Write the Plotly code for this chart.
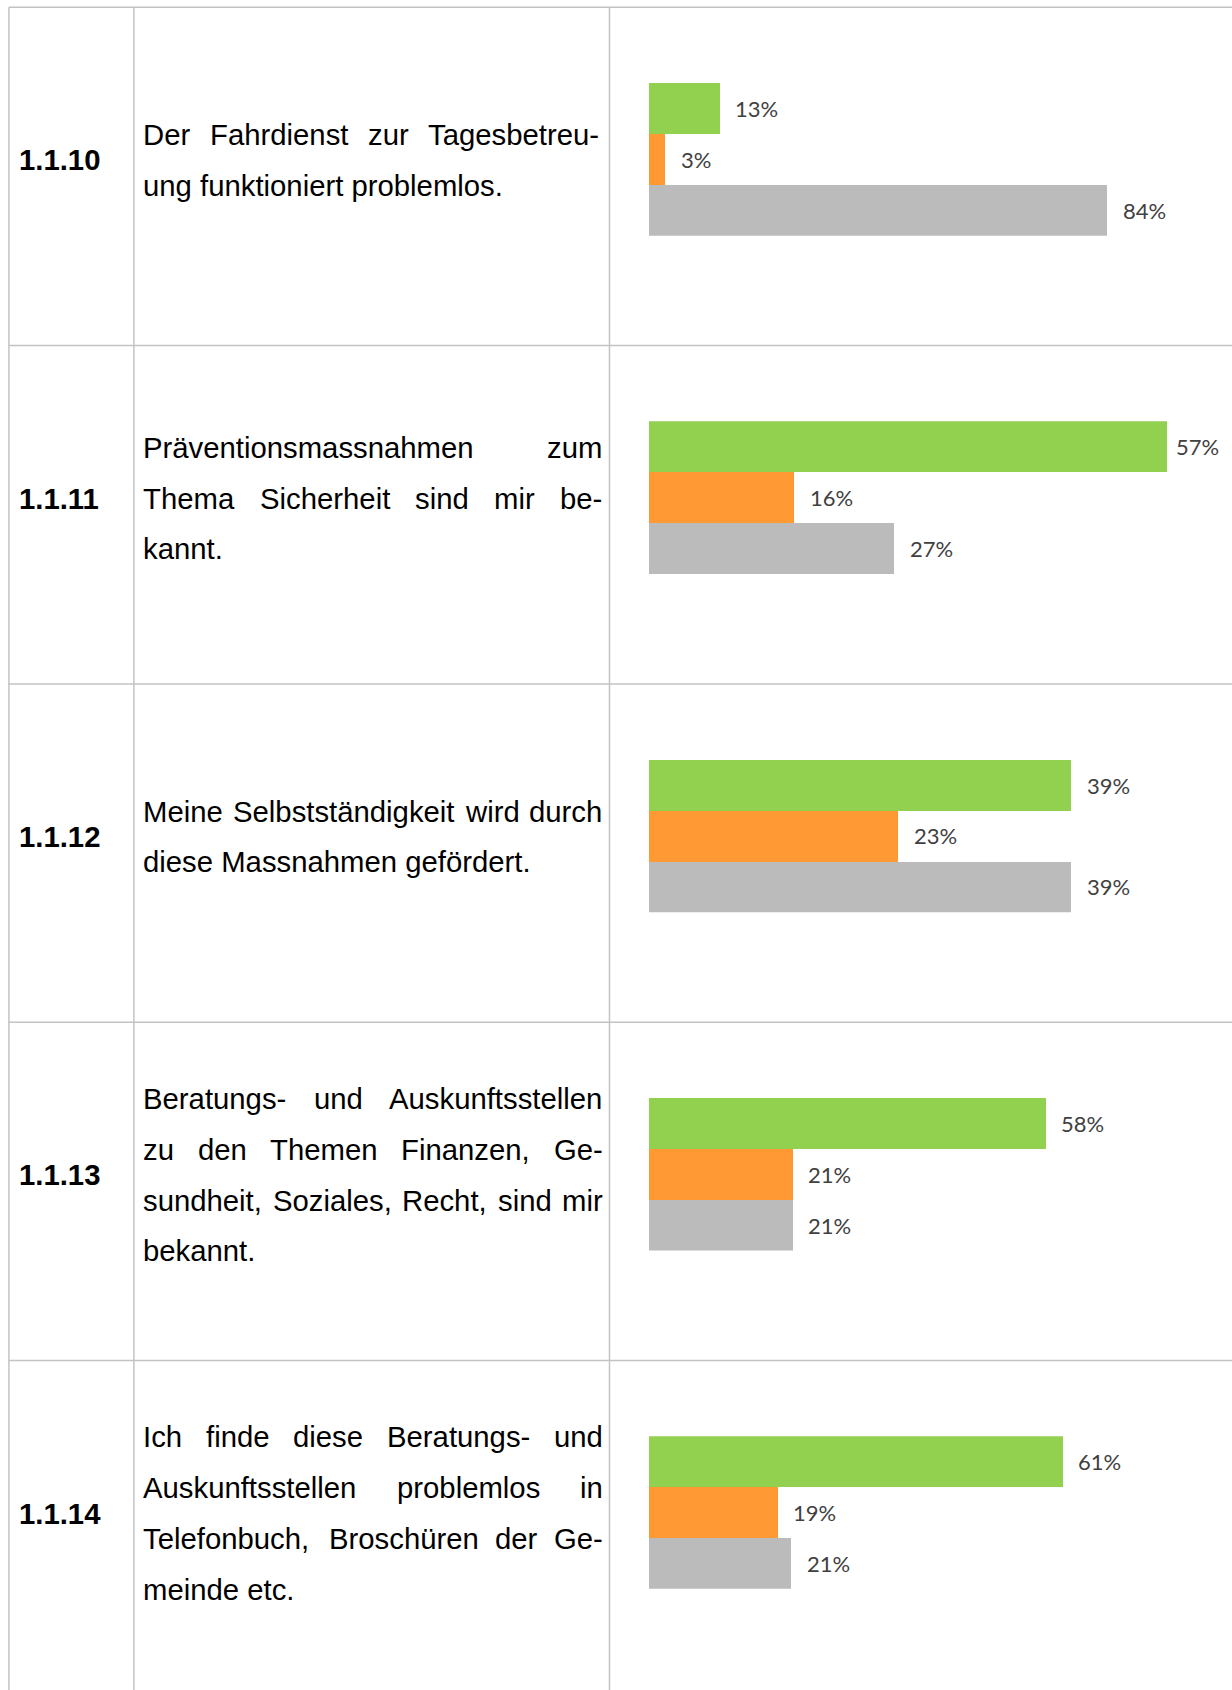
import plotly.graph_objects as go

# ---------------- data ----------------
items = ["1.1.10", "1.1.11", "1.1.12", "1.1.13", "1.1.14"]
statements = [
    ["Der Fahrdienst zur Tagesbetreu-", "ung funktioniert problemlos."],
    ["Präventionsmassnahmen zum", "Thema Sicherheit sind mir be-", "kannt."],
    ["Meine Selbstständigkeit wird durch", "diese Massnahmen gefördert."],
    ["Beratungs- und Auskunftsstellen", "zu den Themen Finanzen, Ge-",
     "sundheit, Soziales, Recht, sind mir", "bekannt."],
    ["Ich finde diese Beratungs- und", "Auskunftsstellen problemlos in",
     "Telefonbuch, Broschüren der Ge-", "meinde etc."],
]
answers = ["Ja", "Nein", "Keine Angabe"]          # green, orange, gray
green_vals = [13, 57, 39, 58, 61]
orange_vals = [3, 16, 23, 21, 19]
gray_vals = [84, 27, 39, 21, 21]

# ---------------- layout / style ----------------
W, H = 1232, 1690
colors = ["#92D050", "#FF9933", "#BBBBBB"]
axis_max = [107.0, 64.2, 53.9, 85.3, 86.0]   # each Excel chart had its own auto scale
ROW0, ROWH = 7.3, 338.3
COLX = [8.9, 133.9, 609.5]
TEXT_L, TEXT_R = 143.4, 602.5
TXT_OFF = 2.0        # annotation padding + side bearing
LINE_SP = 50.7
FS = 29.3
BAR_X0 = 648.6
BAR_H = 50.9
LBL_GAP = 14
LBL_W = 42
LBL_LIMIT = 1216
GRID = "#C3C3C3"
TXT_FONT = "Liberation Sans, Arial, sans-serif"
LBL_FONT = "Lato, Calibri, sans-serif"

# Arial / Liberation Sans advance widths (1/1000 em)
AW = {' ': 278, ',': 278, '-': 333, '.': 278,
      'A': 667, 'B': 667, 'C': 722, 'D': 722, 'E': 667, 'F': 611, 'G': 778, 'H': 722,
      'I': 278, 'J': 500, 'K': 667, 'L': 556, 'M': 833, 'N': 722, 'O': 778, 'P': 667,
      'Q': 778, 'R': 722, 'S': 667, 'T': 611, 'U': 722, 'V': 667, 'W': 944, 'X': 667,
      'Y': 667, 'Z': 611,
      'a': 556, 'b': 556, 'c': 500, 'd': 556, 'e': 556, 'f': 278, 'g': 556, 'h': 556,
      'i': 222, 'j': 222, 'k': 500, 'l': 222, 'm': 833, 'n': 556, 'o': 556, 'p': 556,
      'q': 556, 'r': 333, 's': 500, 't': 278, 'u': 556, 'v': 500, 'w': 722, 'x': 500,
      'y': 500, 'z': 500, 'ä': 556, 'ö': 556, 'ü': 556}


def tw(s, fs=FS):
    return sum(AW.get(c, 556) for c in s) * fs / 1000.0


def px(x):
    return x / W


def py(y):
    return 1 - y / H


fig = go.Figure()
shapes = []
annotations = []

# table grid
for k in range(5):
    y = ROW0 + k * ROWH
    shapes.append(dict(type="line", xref="paper", yref="paper",
                       x0=px(COLX[0]), x1=1.0, y0=py(y), y1=py(y),
                       line=dict(color=GRID, width=1.5)))
for x in COLX:
    shapes.append(dict(type="line", xref="paper", yref="paper",
                       x0=px(x), x1=px(x), y0=py(ROW0), y1=0,
                       line=dict(color=GRID, width=1.5)))

for k in range(5):
    top = ROW0 + k * ROWH
    center = top + 152.5
    # item number
    annotations.append(dict(xref="paper", yref="paper", x=px(17.0), y=py(center),
                            xanchor="left", yanchor="middle", showarrow=False,
                            text="<b>%s</b>" % items[k],
                            font=dict(family=TXT_FONT, size=FS, color="#000000")))
    # statement text, justified
    lines = statements[k]
    n = len(lines)
    for i, line in enumerate(lines):
        yc = center + (i - (n - 1) / 2.0) * LINE_SP
        words = line.split(" ")
        if i == n - 1 or len(words) == 1:
            annotations.append(dict(xref="paper", yref="paper", x=px(TEXT_L - TXT_OFF), y=py(yc),
                                    xanchor="left", yanchor="middle", showarrow=False,
                                    text=line, font=dict(family=TXT_FONT, size=FS, color="#000000")))
        else:
            widths = [tw(w) for w in words]
            gap = (TEXT_R - TEXT_L - sum(widths)) / (len(words) - 1)
            xpos = TEXT_L
            for w, wd in zip(words, widths):
                annotations.append(dict(xref="paper", yref="paper", x=px(xpos - TXT_OFF), y=py(yc),
                                        xanchor="left", yanchor="middle", showarrow=False,
                                        text=w, font=dict(family=TXT_FONT, size=FS, color="#000000")))
                xpos += wd + gap

    # bar chart for the row
    vals = [green_vals[k], orange_vals[k], gray_vals[k]]
    ax = "" if k == 0 else str(k + 1)
    bc = top + 152
    fig.add_trace(go.Bar(
        x=vals, y=answers, orientation="h",
        marker=dict(color=colors, line=dict(width=0)),
        xaxis="x" + ax, yaxis="y" + ax, showlegend=False, hoverinfo="x+y"))
    fig.layout["xaxis" + ax] = dict(domain=[px(BAR_X0), 1.0], range=[0, axis_max[k]],
                                    visible=False, anchor="y" + ax, fixedrange=True)
    fig.layout["yaxis" + ax] = dict(domain=[py(bc + 1.5 * BAR_H), py(bc - 1.5 * BAR_H)],
                                    type="category", categoryorder="array",
                                    categoryarray=answers[::-1], range=[-0.5, 2.5],
                                    visible=False, anchor="x" + ax, fixedrange=True)
    scale = (W - BAR_X0) / axis_max[k]
    for v, a in zip(vals, answers):
        end_px = BAR_X0 + v * scale
        shift = LBL_GAP
        # like Excel, keep the label inside the chart area
        if end_px + shift + LBL_W > LBL_LIMIT:
            shift = max(4, LBL_LIMIT - LBL_W - end_px)
        annotations.append(dict(xref="x" + ax, yref="y" + ax, x=v, y=a,
                                xanchor="left", yanchor="middle", xshift=shift, showarrow=False,
                                text="%d%%" % v,
                                font=dict(family=LBL_FONT, size=22, color="#404040")))

fig.update_layout(width=W, height=H, margin=dict(l=0, r=0, t=0, b=0),
                  paper_bgcolor="white", plot_bgcolor="rgba(0,0,0,0)",
                  bargap=0, barmode="group", shapes=shapes, annotations=annotations)

fig.write_html("out.html", config={"displayModeBar": False},
               post_script="document.body.style.margin='0';document.body.style.overflow='hidden';")
